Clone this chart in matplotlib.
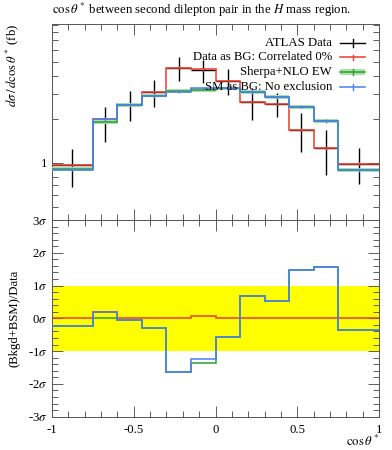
import matplotlib
matplotlib.use('Agg')
import matplotlib.pyplot as plt
import numpy as np
from matplotlib.ticker import FixedLocator, FixedFormatter, NullFormatter

plt.rcParams['font.family'] = ['Liberation Serif', 'DejaVu Serif']
plt.rcParams['mathtext.fontset'] = 'stix'
plt.rcParams['font.size'] = 9.2

# ---- data ----
edges = [-1.0, -0.75, -0.6, -0.45, -0.3, -0.15, 0.0, 0.15, 0.3, 0.45, 0.6, 0.75, 1.0]
data_vals = [0.967, 1.92, 2.555, 3.09, 4.55, 4.36, 3.69, 2.63, 2.56, 1.70, 1.26, 0.99]
data_err = [0.28, 0.52, 0.595, 0.65, 0.87, 0.80, 0.745, 0.64, 0.50, 0.50, 0.43, 0.27]
red_vals = [0.967, 2.01, 2.555, 3.09, 4.55, 4.43, 3.69, 2.63, 2.56, 1.70, 1.26, 0.99]
green_vals = [0.905, 1.93, 2.525, 2.92, 3.12, 3.19, 3.27, 3.09, 2.84, 2.44, 1.95, 0.895]
blue_vals = [0.898, 2.01, 2.525, 2.90, 3.11, 3.27, 3.27, 3.09, 2.83, 2.44, 1.95, 0.895]

ratio_red = [0.0, 0.18, 0.0, 0.0, 0.0, 0.08, 0.0, 0.0, 0.0, 0.0, 0.0, 0.0]
ratio_green = [-0.245, 0.02, -0.05, -0.29, -1.63, -1.35, -0.57, 0.68, 0.52, 1.47, 1.57, -0.36]
ratio_blue = [-0.245, 0.18, -0.05, -0.29, -1.64, -1.245, -0.57, 0.68, 0.52, 1.47, 1.57, -0.36]

labels = ['ATLAS Data', 'Data as BG: Correlated 0%', 'Sherpa+NLO EW', 'SM as BG: No exclusion']
xticks = [-1, -0.5, 0, 0.5, 1]
xticklabels = ['-1', '-0.5', '0', '0.5', '1']
rticks = [-3, -2, -1, 0, 1, 2, 3]
rticklabels = ['-3$\\sigma$', '-2$\\sigma$', '-1$\\sigma$', '0$\\sigma$', '1$\\sigma$', '2$\\sigma$', '3$\\sigma$']

RED = '#ee3a2a'
BLUE = '#4a7ef5'
GREEN = '#2e9e2e'
LGREEN = '#a8e0a8'

edges_a = np.array(edges)
centers = 0.5 * (edges_a[1:] + edges_a[:-1])
halfw = 0.5 * (edges_a[1:] - edges_a[:-1])
dv = np.array(data_vals)
rv = np.array(red_vals)
gv = np.array(green_vals)
bv = np.array(blue_vals)

fig = plt.figure(figsize=(3.92, 4.5), dpi=100)
L, W = 52 / 392, 327 / 392
ax = fig.add_axes([L, 1 - 220 / 450, W, (220 - 23.5) / 450])
rax = fig.add_axes([L, 1 - 416.7 / 450, W, (416.7 - 220) / 450])

# ---- top panel ----
ax.errorbar(centers, dv, yerr=data_err, xerr=halfw, fmt='none', ecolor='black', elinewidth=1.0, capsize=0, zorder=2)
ax.stairs(rv, edges, baseline=None, color=RED, lw=1.1, zorder=3)
ax.errorbar(centers, rv, yerr=rv * 0.02, fmt='none', ecolor=RED, elinewidth=1.0, zorder=3)
ax.stairs(gv * 1.03, edges, baseline=gv * 0.97, fill=True, color=LGREEN, lw=0, zorder=4)
ax.stairs(gv, edges, baseline=None, color=GREEN, lw=1.1, zorder=5)
ax.stairs(bv, edges, baseline=None, color=BLUE, lw=1.1, zorder=6)
ax.errorbar(centers, bv, yerr=bv * 0.025, fmt='none', ecolor=BLUE, elinewidth=1.0, zorder=6)

ax.set_yscale('log')
ax.set_xlim(-1, 1)
ax.set_ylim(0.4045, 9.16)
ax.yaxis.set_major_locator(FixedLocator([1]))
ax.yaxis.set_major_formatter(FixedFormatter(['1']))
ax.yaxis.set_minor_locator(FixedLocator([0.5, 0.6, 0.7, 0.8, 0.9, 2, 3, 4, 5, 6, 7, 8, 9]))
ax.yaxis.set_minor_formatter(NullFormatter())
ax.xaxis.set_major_locator(FixedLocator(xticks))
ax.xaxis.set_minor_locator(FixedLocator(list(np.arange(-0.9, 1.0, 0.1))))
ax.tick_params(labelbottom=False)

for a in (ax, rax):
    a.tick_params(which='both', direction='in', top=True, right=True, width=0.6, colors='#444444', labelcolor='black')
    a.tick_params(which='major', length=8)
    a.tick_params(which='minor', length=4)
    for s in a.spines.values():
        s.set_linewidth(0.7)
        s.set_color('#555555')

# legend (manual)
ys = [0.901, 0.827, 0.753, 0.679]
tx = 0.856
hx0, hx1 = 0.881, 0.957
hxc = 0.5 * (hx0 + hx1)
for y, lab in zip(ys, labels):
    ax.text(tx, y, lab, transform=ax.transAxes, ha='right', va='center', zorder=10)
tr = ax.transAxes
ax.plot([hx0, hx1], [ys[0]] * 2, color='black', lw=1.0, transform=tr, zorder=9)
ax.plot([hxc, hxc], [ys[0] - 0.022, ys[0] + 0.022], color='black', lw=1.0, transform=tr, zorder=9)
ax.plot([hx0, hx1], [ys[1]] * 2, color=RED, lw=1.1, transform=tr, zorder=9)
ax.plot([hxc, hxc], [ys[1] - 0.015, ys[1] + 0.015], color=RED, lw=1.0, transform=tr, zorder=9)
ax.fill_between([hx0, hx1], ys[2] - 0.016, ys[2] + 0.016, color=LGREEN, lw=0, transform=tr, zorder=8)
ax.plot([hx0, hx1], [ys[2]] * 2, color=GREEN, lw=1.1, transform=tr, zorder=9)
ax.plot([hxc, hxc], [ys[2] - 0.015, ys[2] + 0.015], color=GREEN, lw=1.0, transform=tr, zorder=9)
ax.plot([hx0, hx1], [ys[3]] * 2, color=BLUE, lw=1.1, transform=tr, zorder=9)
ax.plot([hxc, hxc], [ys[3] - 0.015, ys[3] + 0.015], color=BLUE, lw=1.0, transform=tr, zorder=9)

# ---- ratio panel ----
rax.axhspan(-1, 1, color='#ffff00', lw=0, zorder=1)
rax.stairs(ratio_red, edges, baseline=None, color=RED, lw=1.1, zorder=3)
rax.stairs(ratio_green, edges, baseline=None, color=GREEN, lw=1.1, zorder=4)
rax.stairs(ratio_blue, edges, baseline=None, color=BLUE, lw=1.1, zorder=5)
rax.set_xlim(-1, 1)
rax.set_ylim(-3, 3)
rax.yaxis.set_major_locator(FixedLocator(rticks))
rax.yaxis.set_major_formatter(FixedFormatter(rticklabels))
rax.yaxis.set_minor_locator(FixedLocator([v for v in np.arange(-3, 3.01, 0.2) if abs(v - round(v)) > 1e-6]))
rax.xaxis.set_major_locator(FixedLocator(xticks))
rax.xaxis.set_major_formatter(FixedFormatter(xticklabels))
rax.xaxis.set_minor_locator(FixedLocator(list(np.arange(-0.9, 1.0, 0.1))))
rax.tick_params(axis='x', pad=5)

# ---- texts ----
fig.text(52 / 392, 1 - 10 / 450, r'$\cos\theta^*$ between second dilepton pair in the $H$ mass region.',
         ha='left', va='center')
fig.text(12 / 392, 1 - 24 / 450, r'$d\sigma\,/\,d\cos\theta^*$ (fb)', rotation=90, ha='center', va='top')
fig.text(15 / 392, 1 - 318 / 450, '(Bkgd+BSM)/Data', rotation=90, ha='center', va='center')
fig.text(379 / 392, 1 - 441 / 450, r'$\cos\theta^*$', ha='right', va='center')

fig.savefig('out.png', dpi=100)
